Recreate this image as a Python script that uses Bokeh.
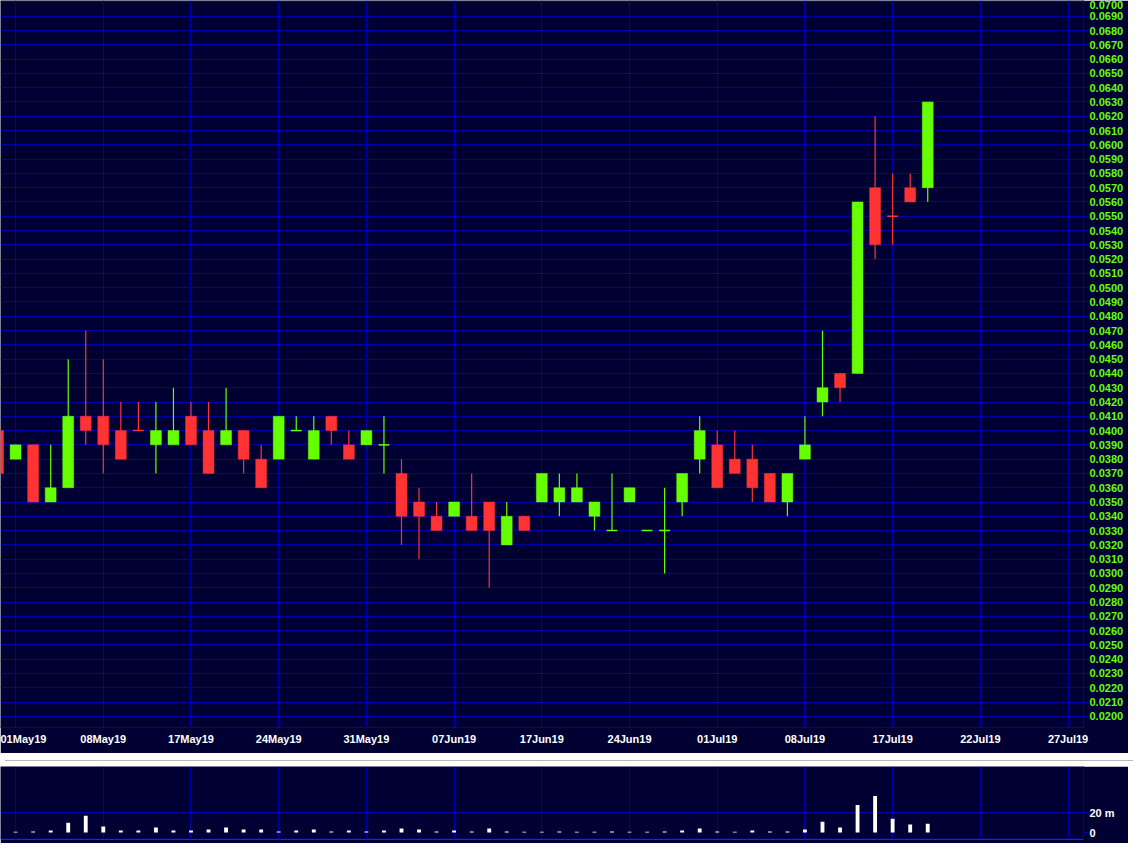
from bokeh.plotting import figure
from bokeh.models import Range1d, FixedTicker, NumeralTickFormatter, Div, ColumnDataSource, Span
from bokeh.layouts import column
from bokeh.embed import file_html
from bokeh.resources import INLINE

# ---------------- data (trading-day index, price in $, volume in millions) ----------------
day_index = list(range(-1, 53))
open_px = [0.040, 0.038, 0.039, 0.035, 0.036, 0.041, 0.041, 0.040, 0.040, 0.039,
           0.039, 0.041, 0.040, 0.039, 0.040, 0.038, 0.038, 0.040, 0.038, 0.041,
           0.039, 0.039, 0.039, 0.037, 0.035, 0.034, 0.034, 0.034, 0.035, 0.032,
           0.034, 0.035, 0.035, 0.035, 0.034, 0.033, 0.035, 0.033, 0.033, 0.035,
           0.038, 0.039, 0.038, 0.038, 0.037, 0.035, 0.038, 0.042, 0.044, 0.044,
           0.057, 0.055, 0.057, 0.057]
high_px = [0.040, 0.039, 0.039, 0.039, 0.045, 0.047, 0.045, 0.042, 0.042, 0.042,
           0.043, 0.042, 0.042, 0.043, 0.040, 0.039, 0.041, 0.041, 0.041, 0.041,
           0.040, 0.040, 0.041, 0.038, 0.036, 0.035, 0.035, 0.037, 0.035, 0.035,
           0.034, 0.037, 0.037, 0.037, 0.035, 0.037, 0.036, 0.033, 0.036, 0.037,
           0.041, 0.040, 0.040, 0.039, 0.037, 0.037, 0.041, 0.047, 0.044, 0.056,
           0.062, 0.058, 0.058, 0.063]
low_px = [0.037, 0.038, 0.035, 0.035, 0.036, 0.039, 0.037, 0.038, 0.040, 0.037,
          0.039, 0.039, 0.037, 0.039, 0.037, 0.036, 0.038, 0.040, 0.038, 0.039,
          0.038, 0.039, 0.037, 0.032, 0.031, 0.033, 0.034, 0.033, 0.029, 0.032,
          0.033, 0.035, 0.034, 0.035, 0.033, 0.033, 0.035, 0.033, 0.030, 0.034,
          0.037, 0.036, 0.037, 0.035, 0.035, 0.034, 0.038, 0.041, 0.042, 0.044,
          0.052, 0.053, 0.056, 0.056]
close_px = [0.037, 0.039, 0.035, 0.036, 0.041, 0.040, 0.039, 0.038, 0.040, 0.040,
            0.040, 0.039, 0.037, 0.040, 0.038, 0.036, 0.041, 0.040, 0.040, 0.040,
            0.038, 0.040, 0.039, 0.034, 0.034, 0.033, 0.035, 0.033, 0.033, 0.034,
            0.033, 0.037, 0.036, 0.036, 0.035, 0.033, 0.036, 0.033, 0.033, 0.037,
            0.040, 0.036, 0.037, 0.036, 0.035, 0.037, 0.039, 0.043, 0.043, 0.056,
            0.053, 0.055, 0.056, 0.063]
volume_m = [1.0, 0.8, 1.0, 2.0, 10.0, 17.0, 6.0, 2.0, 2.0, 5.0,
            2.0, 2.0, 3.0, 5.0, 3.0, 3.0, 1.0, 2.0, 3.0, 1.0,
            2.0, 1.0, 2.0, 4.0, 3.0, 1.0, 2.0, 1.0, 4.0, 1.0,
            0.7, 0.7, 1.0, 0.7, 0.7, 1.0, 0.7, 0.7, 1.0, 2.0,
            4.0, 1.0, 0.7, 2.0, 1.0, 1.0, 3.0, 11.0, 5.0, 28.0,
            37.0, 14.0, 8.0, 9.0]

date_tick_index = [0, 5, 10, 15, 20, 25, 30, 35, 40, 45, 50, 55, 60]
date_tick_labels = ["01May19", "08May19", "17May19", "24May19", "31May19", "07Jun19",
                    "17Jun19", "24Jun19", "01Jul19", "08Jul19", "17Jul19", "22Jul19", "27Jul19"]
price_ticks = [0.020 + 0.001 * k for k in range(51)]
volume_ticks = [0, 20]
volume_tick_labels = ["0", "20 m"]

# ---------------- styles ----------------
BG = "#000033"
GRID = "#0000aa"
UP = "#66ff00"
DOWN = "#ff3333"
FONT = "Liberation Sans"
BODY_W = 0.62
VOL_W = 0.22

# colour: up if close>open, tie -> up when close did not rise vs previous close
colours = []
for i in range(len(day_index)):
    o, c = open_px[i], close_px[i]
    if c > o:
        colours.append(UP)
    elif c < o:
        colours.append(DOWN)
    else:
        prev = close_px[i - 1] if i > 0 else c
        colours.append(UP if c <= prev else DOWN)

body_src = dict(x=[], top=[], bottom=[], color=[])
doji_src = dict(x0=[], x1=[], y=[], color=[])
for i, d in enumerate(day_index):
    o, c = open_px[i], close_px[i]
    if abs(o - c) < 1e-9:
        doji_src["x0"].append(d - BODY_W / 2)
        doji_src["x1"].append(d + BODY_W / 2)
        doji_src["y"].append(c)
        doji_src["color"].append(colours[i])
    else:
        body_src["x"].append(d)
        body_src["top"].append(max(o, c))
        body_src["bottom"].append(min(o, c))
        body_src["color"].append(colours[i])

wick_src = ColumnDataSource(dict(x=day_index, hi=high_px, lo=low_px, color=colours))

X_RANGE = (-0.86, 60.88)
TOTAL_W = 1128
RIGHT_B = 45

# ---------------- price panel ----------------
p = figure(width=TOTAL_W, height=753, output_backend="svg", toolbar_location=None,
           x_range=Range1d(*X_RANGE), y_range=Range1d(0.01922, 0.0701),
           y_axis_location="right", min_border_left=0, min_border_top=0,
           min_border_right=RIGHT_B, min_border_bottom=26)
p.background_fill_color = BG
p.border_fill_color = BG
p.outline_line_color = None

p.segment(x0="x", y0="lo", x1="x", y1="hi", source=wick_src, line_color="color", line_width=1.2)
p.vbar(x="x", top="top", bottom="bottom", width=BODY_W, source=ColumnDataSource(body_src),
       fill_color="color", line_color="color", line_width=0.5)
p.segment(x0="x0", y0="y", x1="x1", y1="y", source=ColumnDataSource(doji_src),
          line_color="color", line_width=1.5)

p.xaxis.ticker = FixedTicker(ticks=date_tick_index)
p.xaxis.major_label_overrides = {t: l for t, l in zip(date_tick_index, date_tick_labels)}
p.xaxis.major_tick_out = 0
p.xaxis.major_tick_in = 0
p.xaxis.minor_tick_out = 0
p.xaxis.minor_tick_in = 0
p.xaxis.axis_line_color = GRID
p.xaxis.major_label_standoff = 5
p.xaxis.major_label_text_color = "#ffffff"
p.xaxis.major_label_text_font = FONT
p.xaxis.major_label_text_font_style = "bold"
p.xaxis.major_label_text_font_size = "11px"

p.yaxis.ticker = FixedTicker(ticks=price_ticks)
p.yaxis.formatter = NumeralTickFormatter(format="0.0000")
p.yaxis.axis_line_color = GRID
p.yaxis.major_tick_line_color = GRID
p.yaxis.major_tick_out = 5
p.yaxis.major_tick_in = 0
p.yaxis.minor_tick_out = 0
p.yaxis.minor_tick_in = 0
p.yaxis.major_label_standoff = 1
p.yaxis.major_label_text_color = UP
p.yaxis.major_label_text_font = FONT
p.yaxis.major_label_text_font_style = "bold"
p.yaxis.major_label_text_font_size = "11px"

p.xgrid.ticker = FixedTicker(ticks=date_tick_index)
p.ygrid.ticker = FixedTicker(ticks=price_ticks)
p.xgrid.grid_line_color = GRID
p.ygrid.grid_line_color = GRID

# ---------------- separator ----------------
sep = Div(width=TOTAL_W, height=3,
          styles={"background": "linear-gradient(#ffffff 0%, #ffffff 60%, #b8b8b8 60%, #b8b8b8 100%)"})

# ---------------- volume panel ----------------
v = figure(width=TOTAL_W, height=77, output_backend="svg", toolbar_location=None,
           x_range=p.x_range, y_range=Range1d(-7.1, 67.0),
           x_axis_location=None, y_axis_location="right",
           min_border_left=0, min_border_top=0,
           min_border_right=RIGHT_B, min_border_bottom=4)
v.background_fill_color = BG
v.border_fill_color = BG
v.outline_line_color = None

v.vbar(x=day_index, top=volume_m, bottom=0, width=VOL_W, fill_color="#ffffff", line_color=None)

# frame bottom edge of the volume panel
v.add_layout(Span(location=-6.6, dimension="width", line_color=GRID, line_width=1))

v.yaxis.ticker = FixedTicker(ticks=volume_ticks)
v.yaxis.major_label_overrides = {t: l for t, l in zip(volume_ticks, volume_tick_labels)}
v.yaxis.axis_line_color = GRID
v.yaxis.major_tick_line_color = GRID
v.yaxis.major_tick_out = 5
v.yaxis.major_tick_in = 0
v.yaxis.minor_tick_out = 0
v.yaxis.minor_tick_in = 0
v.yaxis.major_label_standoff = 1
v.yaxis.major_label_text_color = "#ffffff"
v.yaxis.major_label_text_font = FONT
v.yaxis.major_label_text_font_style = "bold"
v.yaxis.major_label_text_font_size = "11px"

v.xgrid.ticker = FixedTicker(ticks=date_tick_index)
v.ygrid.ticker = FixedTicker(ticks=[20])
v.xgrid.grid_line_color = GRID
v.ygrid.grid_line_color = GRID

layout = column(p, sep, v, spacing=0)
open("out.html", "w").write(file_html(layout, INLINE))
